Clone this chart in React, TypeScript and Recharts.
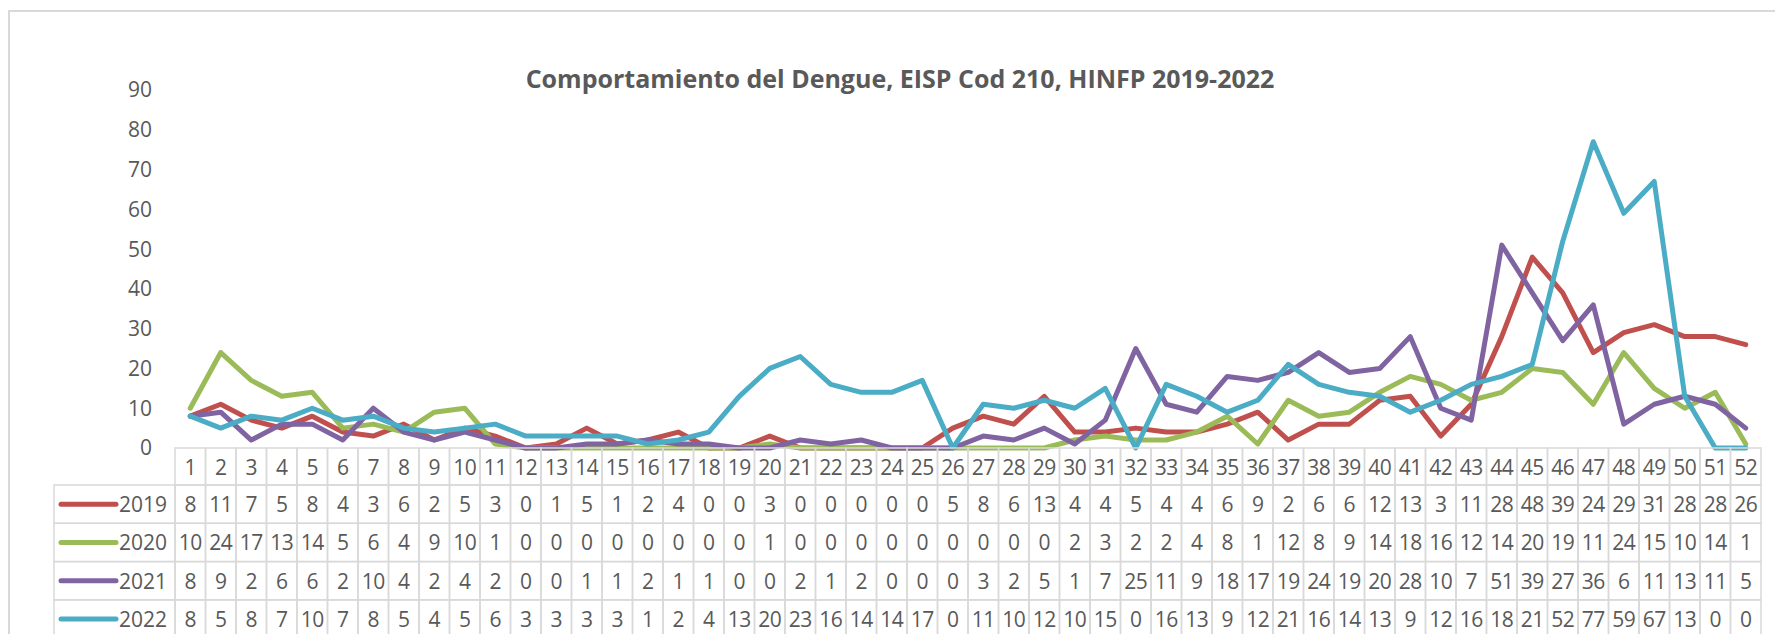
import React from 'react';
import { LineChart, Line, XAxis, YAxis } from 'recharts';

const weeks = [1,2,3,4,5,6,7,8,9,10,11,12,13,14,15,16,17,18,19,20,21,22,23,24,25,26,27,28,29,30,31,32,33,34,35,36,37,38,39,40,41,42,43,44,45,46,47,48,49,50,51,52];

const s2019 = [8,11,7,5,8,4,3,6,2,5,3,0,1,5,1,2,4,0,0,3,0,0,0,0,0,5,8,6,13,4,4,5,4,4,6,9,2,6,6,12,13,3,11,28,48,39,24,29,31,28,28,26];
const s2020 = [10,24,17,13,14,5,6,4,9,10,1,0,0,0,0,0,0,0,0,1,0,0,0,0,0,0,0,0,0,2,3,2,2,4,8,1,12,8,9,14,18,16,12,14,20,19,11,24,15,10,14,1];
const s2021 = [8,9,2,6,6,2,10,4,2,4,2,0,0,1,1,2,1,1,0,0,2,1,2,0,0,0,3,2,5,1,7,25,11,9,18,17,19,24,19,20,28,10,7,51,39,27,36,6,11,13,11,5];
const s2022 = [8,5,8,7,10,7,8,5,4,5,6,3,3,3,3,1,2,4,13,20,23,16,14,14,17,0,11,10,12,10,15,0,16,13,9,12,21,16,14,13,9,12,16,18,21,52,77,59,67,13,0,0];

const yTicks = [0,10,20,30,40,50,60,70,80,90];

const seriesNames = ['2019','2020','2021','2022'];
const seriesValues = [s2019, s2020, s2021, s2022];
const seriesColors = ['#C0504D','#9BBB59','#8064A2','#4BACC6'];

const data = weeks.map((w, i) => ({
  week: String(w),
  '2019': s2019[i],
  '2020': s2020[i],
  '2021': s2021[i],
  '2022': s2022[i],
}));

const W = 1775;
const H = 634;
const PLOT_LEFT = 175;
const PLOT_RIGHT = 1761;
const PLOT_TOP = 90;
const PLOT_BOTTOM = 448;
const COL_W = (PLOT_RIGHT - PLOT_LEFT) / weeks.length;
const HEADER_H = 37;
const ROW_H = 38.3;
const LEGEND_LEFT = 54;
const GRID = '#D9D9D9';
const TEXT = '#595959';
const FONT = '"Open Sans", sans-serif';
const FS = 21;

const TableTick = (props: any) => {
  const { x, y, payload } = props;
  const i: number = payload.index;
  const left = x - COL_W / 2;
  const rowsTop = y + HEADER_H;
  const els: any[] = [];
  els.push(
    <rect key="h" x={left} y={y} width={COL_W} height={HEADER_H} fill="none" stroke={GRID} strokeWidth={1.5} />
  );
  els.push(
    <text key="ht" x={x} y={y + HEADER_H / 2} textAnchor="middle" dominantBaseline="central" fontSize={FS} fill={TEXT} fontFamily={FONT} letterSpacing={-0.5}>{payload.value}</text>
  );
  seriesValues.forEach((vals, r) => {
    const top = rowsTop + r * ROW_H;
    els.push(
      <rect key={'r' + r} x={left} y={top} width={COL_W} height={ROW_H} fill="none" stroke={GRID} strokeWidth={1.5} />
    );
    els.push(
      <text key={'t' + r} x={x} y={top + ROW_H / 2} textAnchor="middle" dominantBaseline="central" fontSize={FS} fill={TEXT} fontFamily={FONT} letterSpacing={-0.5}>{vals[i]}</text>
    );
  });
  if (i === 0) {
    seriesNames.forEach((name, r) => {
      const top = rowsTop + r * ROW_H;
      const cy = top + ROW_H / 2;
      els.push(
        <rect key={'lr' + r} x={LEGEND_LEFT} y={top} width={left - LEGEND_LEFT} height={ROW_H} fill="none" stroke={GRID} strokeWidth={1.5} />
      );
      els.push(
        <line key={'ll' + r} x1={61} x2={116} y1={cy} y2={cy} stroke={seriesColors[r]} strokeWidth={5} strokeLinecap="round" />
      );
      els.push(
        <text key={'lt' + r} x={119} y={cy} textAnchor="start" dominantBaseline="central" fontSize={FS} fill={TEXT} fontFamily={FONT}>{name}</text>
      );
    });
  }
  return <g>{els}</g>;
};

export default function App() {
  return (
    <div style={{ position: 'absolute', left: 0, top: 0, width: W, height: H, overflow: 'hidden', background: '#fff' }}>
      <div style={{ position: 'absolute', left: 8, top: 10, width: W + 20, height: H + 20, border: '2px solid #D9D9D9', boxSizing: 'border-box' }} />
      <div style={{ position: 'absolute', left: 400, width: 1000, top: 60, textAlign: 'center', fontFamily: FONT, fontWeight: 700, fontSize: 25, color: TEXT, lineHeight: '36px' }}>
        Comportamiento del Dengue, EISP Cod 210, HINFP 2019-2022
      </div>
      <div style={{ position: 'absolute', left: 0, top: 0 }}>
        <LineChart
          width={W}
          height={H}
          data={data}
          margin={{ top: PLOT_TOP, right: W - PLOT_RIGHT, left: 0, bottom: 6 }}
        >
          <XAxis
            dataKey="week"
            interval={0}
            axisLine={false}
            tickLine={false}
            tickSize={0}
            tickMargin={0}
            height={H - PLOT_BOTTOM - 6}
            padding={{ left: COL_W / 2, right: COL_W / 2 }}
            tick={<TableTick />}
          />
          <YAxis
            domain={[0, 90]}
            ticks={yTicks}
            interval={0}
            width={PLOT_LEFT}
            axisLine={false}
            tickLine={false}
            tickSize={0}
            tickMargin={23}
            tick={{ fontSize: FS, fill: TEXT, fontFamily: FONT }}
          />
          {seriesNames.map((name, r) => (
            <Line
              key={name}
              type="linear"
              dataKey={name}
              stroke={seriesColors[r]}
              strokeWidth={5}
              strokeLinejoin="round"
              strokeLinecap="round"
              dot={false}
              activeDot={false}
              isAnimationActive={false}
            />
          ))}
        </LineChart>
      </div>
    </div>
  );
}
